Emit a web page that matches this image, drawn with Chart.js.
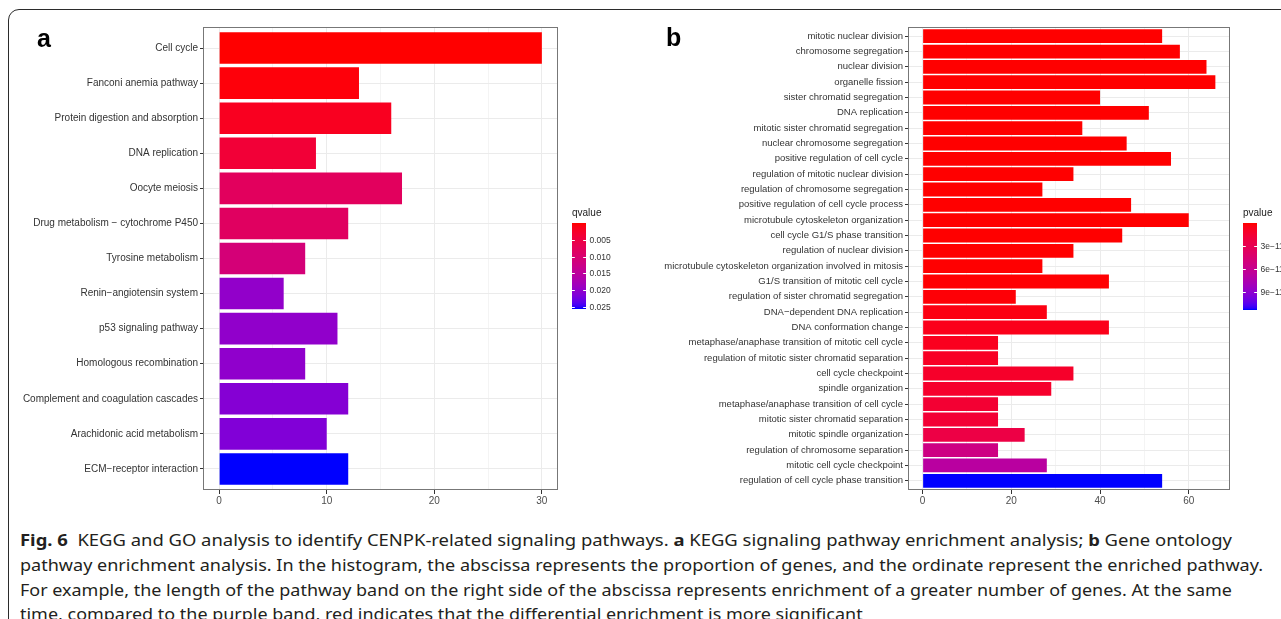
<!DOCTYPE html>
<html>
<head>
<meta charset="utf-8">
<script src="https://cdn.jsdelivr.net/npm/chart.js@4.4.1/dist/chart.umd.min.js"></script>
<style>
  body { margin: 0; width: 1281px; height: 619px; overflow: hidden; background: #fff; position: relative; }
  #frame { position: absolute; left: 8px; top: 9px; width: 1320px; height: 700px; border: 1.5px solid #2b2b2b; border-top-left-radius: 11px; box-sizing: border-box; }
  .panel { position: absolute; font-family: "Liberation Sans", Arial, sans-serif; font-weight: bold; font-size: 25px; line-height: 25px; color: #000; }
  #chartA { position: absolute; left: 0; top: 0; }
  #chartB { position: absolute; left: 640px; top: 0; }
  .cap { position: absolute; left: 20px; font-family: "Noto Sans", sans-serif; font-size: 16.5px; line-height: 24px; color: #231f20; white-space: nowrap; transform-origin: 0 50%; }
</style>
</head>
<body>
<div id="frame"></div>
<canvas id="chartA" width="640" height="515"></canvas>
<canvas id="chartB" width="641" height="515"></canvas>
<div class="panel" style="left:37px; top:26px;">a</div>
<div class="panel" style="left:666px; top:25px;">b</div>
<div class="cap" style="top:528px;" data-w="1212"><b>Fig. 6</b>&nbsp; KEGG and GO analysis to identify CENPK-related signaling pathways. <b>a</b> KEGG signaling pathway enrichment analysis; <b>b</b> Gene ontology</div>
<div class="cap" style="top:553px;" data-w="1243">pathway enrichment analysis. In the histogram, the abscissa represents the proportion of genes, and the ordinate represent the enriched pathway.</div>
<div class="cap" style="top:578px;" data-w="1212">For example, the length of the pathway band on the right side of the abscissa represents enrichment of a greater number of genes. At the same</div>
<div class="cap" style="top:602px;">time, compared to the purple band, red indicates that the differential enrichment is more significant</div>
<script>
// KEGG panel (a)
var keggPathways = ['Cell cycle', 'Fanconi anemia pathway', 'Protein digestion and absorption', 'DNA replication',
  'Oocyte meiosis', 'Drug metabolism \u2212 cytochrome P450', 'Tyrosine metabolism', 'Renin\u2212angiotensin system',
  'p53 signaling pathway', 'Homologous recombination', 'Complement and coagulation cascades',
  'Arachidonic acid metabolism', 'ECM\u2212receptor interaction'];
var keggCounts = [30, 13, 16, 9, 17, 12, 8, 6, 11, 8, 12, 10, 12];
var keggQValues = [0.00001, 0.0004, 0.0017, 0.0038, 0.0079, 0.0082, 0.0108, 0.0200, 0.0201, 0.0202, 0.0211, 0.0214, 0.0256];
var keggXTicks = [0, 10, 20, 30];
var qLegendTicks = [0.005, 0.010, 0.015, 0.020, 0.025];

// GO panel (b)
var goTerms = ['mitotic nuclear division', 'chromosome segregation', 'nuclear division', 'organelle fission',
  'sister chromatid segregation', 'DNA replication', 'mitotic sister chromatid segregation',
  'nuclear chromosome segregation', 'positive regulation of cell cycle', 'regulation of mitotic nuclear division',
  'regulation of chromosome segregation', 'positive regulation of cell cycle process',
  'microtubule cytoskeleton organization', 'cell cycle G1/S phase transition', 'regulation of nuclear division',
  'microtubule cytoskeleton organization involved in mitosis', 'G1/S transition of mitotic cell cycle',
  'regulation of sister chromatid segregation', 'DNA\u2212dependent DNA replication', 'DNA conformation change',
  'metaphase/anaphase transition of mitotic cell cycle', 'regulation of mitotic sister chromatid separation',
  'cell cycle checkpoint', 'spindle organization', 'metaphase/anaphase transition of cell cycle',
  'mitotic sister chromatid separation', 'mitotic spindle organization', 'regulation of chromosome separation',
  'mitotic cell cycle checkpoint', 'regulation of cell cycle phase transition'];
var goCounts = [54, 58, 64, 66, 40, 51, 36, 46, 56, 34, 27, 47, 60, 45, 34, 27, 42, 21, 28, 42, 17, 17, 34, 29, 17, 17, 23, 17, 28, 54];
var goPValues = [2e-22, 5e-21, 1e-20, 3e-20, 8e-19, 1e-18, 4e-17, 9e-17, 2e-16, 6e-16, 1e-15, 3e-15, 8e-15, 2e-14, 5e-14,
  1e-13, 3e-13, 1.1e-12, 3.4e-12, 5.7e-12, 6.8e-12, 9.0e-12, 1.13e-11, 1.2e-11, 1.5e-11, 1.6e-11, 2.3e-11, 5.4e-11, 6.8e-11, 1.13e-10];
var goXTicks = [0, 20, 40, 60];
var pLegendTicks = [3e-11, 6e-11, 9e-11];
var pLegendLabels = ['3e\u221211', '6e\u221211', '9e\u221211'];

// red -> blue in Lab space, like ggplot's scale_fill_gradient
function toLin(c) { c /= 255; return c <= 0.04045 ? c / 12.92 : Math.pow((c + 0.055) / 1.055, 2.4); }
function toSrgb(v) { v = Math.max(0, Math.min(1, v)); var s = v <= 0.0031308 ? 12.92 * v : 1.055 * Math.pow(v, 1 / 2.4) - 0.055; return Math.round(s * 255); }
function rgbToLab(r, g, b) {
  r = toLin(r); g = toLin(g); b = toLin(b);
  var X = (0.4124 * r + 0.3576 * g + 0.1805 * b) / 0.95047;
  var Y = 0.2126 * r + 0.7152 * g + 0.0722 * b;
  var Z = (0.0193 * r + 0.1192 * g + 0.9505 * b) / 1.08883;
  var f = function (t) { return t > 0.008856 ? Math.cbrt(t) : 7.787 * t + 16 / 116; };
  return [116 * f(Y) - 16, 500 * (f(X) - f(Y)), 200 * (f(Y) - f(Z))];
}
function labToRgb(L, a, b) {
  var fy = (L + 16) / 116, fx = fy + a / 500, fz = fy - b / 200;
  var inv = function (t) { return t > 0.2069 ? t * t * t : (t - 16 / 116) / 7.787; };
  var X = inv(fx) * 0.95047, Y = inv(fy), Z = inv(fz) * 1.08883;
  var r = 3.2406 * X - 1.5372 * Y - 0.4986 * Z;
  var g = -0.9689 * X + 1.8758 * Y + 0.0415 * Z;
  var bl = 0.0557 * X - 0.2040 * Y + 1.0570 * Z;
  return 'rgb(' + toSrgb(r) + ',' + toSrgb(g) + ',' + toSrgb(bl) + ')';
}
var labLow = rgbToLab(255, 0, 0), labHigh = rgbToLab(0, 0, 255);
function gradColor(t) {
  t = Math.max(0, Math.min(1, t));
  return labToRgb(labLow[0] + (labHigh[0] - labLow[0]) * t, labLow[1] + (labHigh[1] - labLow[1]) * t, labLow[2] + (labHigh[2] - labLow[2]) * t);
}

var fam = '"Liberation Sans", Arial, sans-serif';

var panelBox = {
  id: 'panelBox',
  afterDraw: function (chart) {
    var a = chart.chartArea, ctx = chart.ctx;
    ctx.save();
    ctx.strokeStyle = '#777';
    ctx.lineWidth = 1;
    ctx.strokeRect(Math.round(a.left) + 0.5, Math.round(a.top) + 0.5, Math.round(a.right - a.left) - 1, Math.round(a.bottom - a.top) - 1);
    ctx.restore();
  }
};

var colorbar = {
  id: 'colorbar',
  afterDraw: function (chart, args, o) {
    var ctx = chart.ctx;
    var x = chart.chartArea.right + o.gap, y = o.top, w = o.width, h = o.height;
    ctx.save();
    for (var i = 0; i < h; i++) {
      ctx.fillStyle = gradColor(i / (h - 1));
      ctx.fillRect(x, y + i, w, 1);
    }
    ctx.strokeStyle = '#fff';
    ctx.lineWidth = 1;
    ctx.fillStyle = '#333';
    ctx.font = o.labelSize + 'px ' + fam;
    ctx.textBaseline = 'middle';
    ctx.textAlign = 'left';
    o.ticks.forEach(function (v, k) {
      var ty = Math.round(y + (v - o.min) / (o.max - o.min) * h) + 0.5;
      ctx.beginPath();
      ctx.moveTo(x, ty); ctx.lineTo(x + w / 5, ty);
      ctx.moveTo(x + w * 4 / 5, ty); ctx.lineTo(x + w, ty);
      ctx.stroke();
      ctx.fillText(o.labels[k], x + w + 3.5, ty);
    });
    ctx.font = o.titleSize + 'px ' + fam;
    ctx.fillStyle = '#222';
    ctx.fillText(o.title, x, y - 10);
    ctx.restore();
  }
};

function buildChart(id, labels, counts, sig, xTicks, legend, area, size) {
  var canvas = document.getElementById(id);
  var n = labels.length;
  var top = Math.max.apply(null, counts);
  var sMin = Math.min.apply(null, sig), sMax = Math.max.apply(null, sig);
  var colors = sig.map(function (v) { return gradColor((v - sMin) / (sMax - sMin)); });
  var major = xTicks[1] - xTicks[0];
  var xt = [];
  for (var v = 0; v <= top * 1.05; v += major / 2) xt.push(v);
  legend.min = sMin; legend.max = sMax;

  return new Chart(canvas, {
    type: 'bar',
    data: {
      datasets: [{
        data: counts.map(function (c, i) { return { x: c, y: i }; }),
        backgroundColor: colors,
        borderWidth: 0,
        barPercentage: 0.9,
        categoryPercentage: 1
      }]
    },
    options: {
      indexAxis: 'y',
      responsive: false,
      animation: false,
      layout: { padding: { top: area.top, right: canvas.width - area.right, left: 0, bottom: 0 } },
      plugins: {
        legend: { display: false },
        tooltip: { enabled: false },
        colorbar: legend
      },
      scales: {
        x: {
          type: 'linear',
          min: -0.05 * top,
          max: 1.05 * top,
          afterBuildTicks: function (s) { s.ticks = xt.map(function (v) { return { value: v }; }); },
          afterFit: function (s) { s.height = canvas.height - area.bottom; },
          border: { display: false },
          grid: {
            color: function (c) { return c.tick && c.tick.value % major === 0 ? '#ebebeb' : '#f4f4f4'; },
            lineWidth: 1,
            tickLength: 4,
            tickColor: function (c) { return c.tick && c.tick.value % major === 0 ? '#333' : 'rgba(0,0,0,0)'; }
          },
          ticks: {
            autoSkip: false,
            maxRotation: 0,
            padding: 1,
            color: '#4d4d4d',
            font: { family: fam, size: 10 },
            callback: function (val) { return val % major === 0 ? val : ''; }
          }
        },
        y: {
          type: 'linear',
          reverse: true,
          offset: false,
          min: -0.6,
          max: n - 0.4,
          afterBuildTicks: function (s) { s.ticks = labels.map(function (l, i) { return { value: i }; }); },
          afterFit: function (s) { s.width = area.left; },
          border: { display: false },
          grid: { offset: false, color: '#ebebeb', lineWidth: 1, tickLength: 3, tickColor: '#333' },
          ticks: {
            autoSkip: false,
            padding: 2,
            color: '#333',
            font: { family: fam, size: size },
            callback: function (val) { return labels[val]; }
          }
        }
      }
    },
    plugins: [panelBox, colorbar]
  });
}

buildChart('chartA', keggPathways, keggCounts, keggQValues, keggXTicks,
  { gap: 14, top: 223, width: 14, height: 86, title: 'qvalue', ticks: qLegendTicks,
    labels: qLegendTicks.map(function (v) { return v.toFixed(3); }), labelSize: 8.5, titleSize: 10 },
  { left: 203, top: 27, right: 558, bottom: 490 }, 10);

buildChart('chartB', goTerms, goCounts, goPValues, goXTicks,
  { gap: 13, top: 223, width: 14, height: 87, title: 'pvalue', ticks: pLegendTicks,
    labels: pLegendLabels, labelSize: 8.5, titleSize: 10 },
  { left: 268, top: 27, right: 590, bottom: 490 }, 9.5);

// fit caption lines to the widths in the figure; the last line keeps the scale of the one above
var lastScale = 1;
document.querySelectorAll('.cap').forEach(function (el) {
  var target = +el.getAttribute('data-w');
  var k = lastScale;
  if (target) {
    k = target / el.getBoundingClientRect().width;
    if (k < 0.8 || k > 1.2) k = 1;
    lastScale = k;
  }
  el.style.transform = 'scaleX(' + k + ')';
});
</script>
</body>
</html>
